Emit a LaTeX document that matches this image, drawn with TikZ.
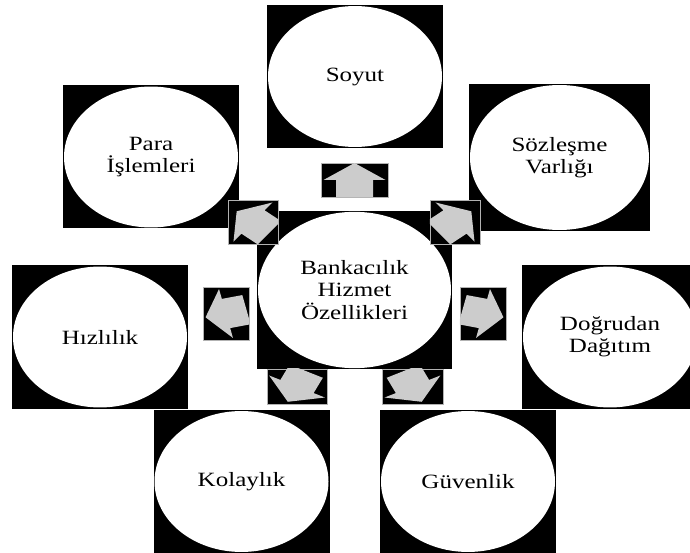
\documentclass[tikz,border=0pt]{standalone}
\usepackage{fontspec}
\setmainfont{Liberation Serif}
\usetikzlibrary{shapes.geometric}
\tikzset{
  fbox/.style={fill=black,inner sep=0pt,minimum width=176*0.25mm,minimum height=143*0.25mm},
  fcirc/.style={ellipse,fill=white,inner sep=0pt,align=center,yscale=0.81,
    minimum width=174*0.25mm,minimum height=174*0.25mm,font=\fontsize{17.8}{19.5}\selectfont},
  abox/.style={fill=black,draw=gray!60,line width=0.3pt,inner sep=0pt},
  arrowfill/.style={fill=gray!40},
}

\begin{document}
\begin{tikzpicture}[x=0.25mm,y=-0.25mm]
  \useasboundingbox (0,0) rectangle (690,553);
  \clip (0,0) rectangle (690,553);
  % outer features
  \node[fbox] (soyutbox) at (355,76.5) {};
  \node[fcirc] (soyut) at (soyutbox) {Soyut};
  \node[fbox] (parabox) at (151,157) {};
  \node[fcirc] (para) at (parabox) {Para\\İşlemleri};
  \node[fbox,minimum width=181*0.25mm,minimum height=147*0.25mm] (sozbox) at (559.5,157.5) {};
  \node[fcirc,minimum width=179*0.25mm,minimum height=179*0.25mm] (soz) at (sozbox) {Sözleşme\\Varlığı};
  \node[fbox] (hizbox) at (100,337) {};
  \node[fcirc] (hiz) at (hizbox) {Hızlılık};
  \node[fbox] (dogbox) at (610,337) {};
  \node[fcirc] (dog) at (dogbox) {Doğrudan\\Dağıtım};
  \node[fbox] (kolbox) at (241.5,481.5) {};
  \node[fcirc] (kol) at (kolbox) {Kolaylık};
  \node[fbox] (guvbox) at (468,481.5) {};
  \node[fcirc] (guv) at (guvbox) {Güvenlik};
  % centre
  \node[fbox,minimum width=195*0.25mm,minimum height=158*0.25mm] (bankbox) at (354.5,290) {};
  \node[fcirc,minimum width=193*0.25mm,minimum height=193*0.25mm] (bank) at (bankbox) {Bankacılık\\Hizmet\\Özellikleri};
  % block arrows in small boxes, pointing out of the centre
  \foreach \n/\x/\y/\w/\h/\a in {atop/354.5/180/67/34/270, aul/253/222/50/44/219,
      aur/455/222/50/44/321, al/226/313.5/46/53/167, ar/483/313.5/46/53/13,
      all/297/386.5/60/35/116, alr/412.5/386.5/61/35/64}{
    \node[abox,minimum width=\w*0.25mm,minimum height=\h*0.25mm] (\n) at (\x,\y) {};
    \begin{scope}
      \clip (\n.south west) rectangle (\n.north east);
      \fill[arrowfill,shift={(\n.center)},yscale=0.81,rotate=-\a]
        (21,0) -- (0,31) -- (0,18.5) -- (-21,18.5) -- (-21,-18.5) -- (0,-18.5) -- (0,-31) -- cycle;
    \end{scope}
  }
\end{tikzpicture}
\end{document}
